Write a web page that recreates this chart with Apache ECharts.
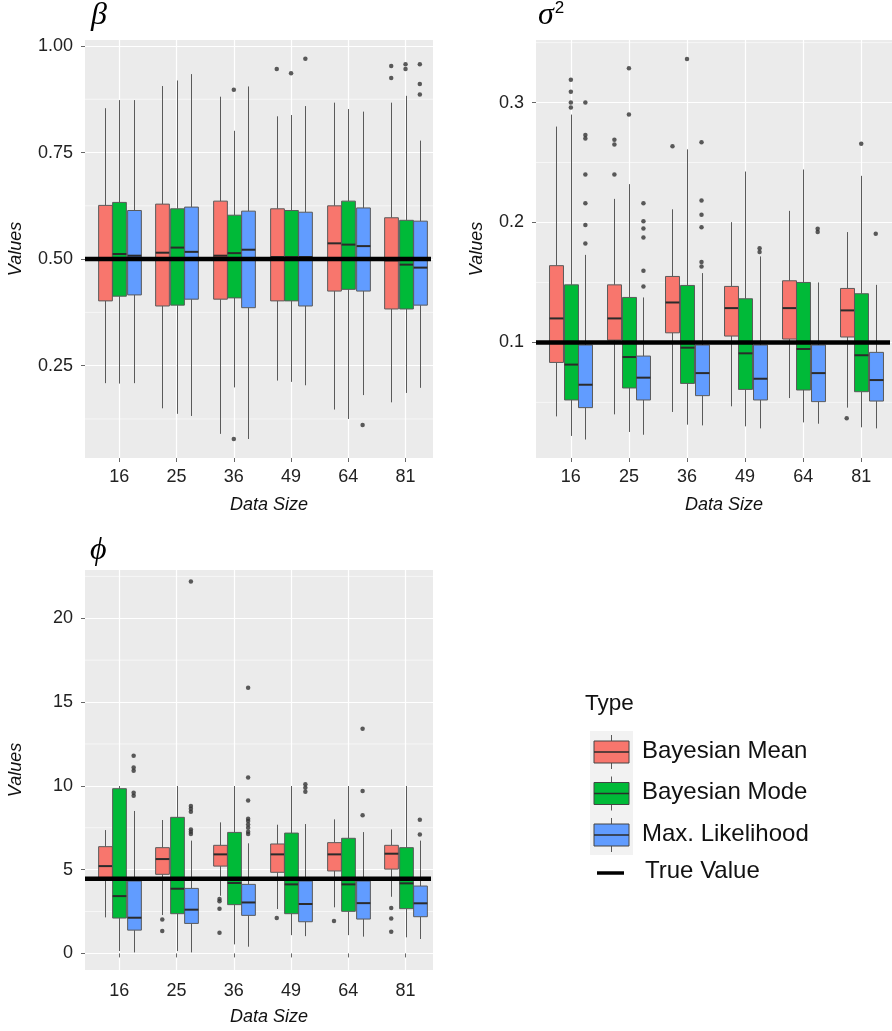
<!DOCTYPE html>
<html>
<head>
<meta charset="utf-8">
<script src="https://cdn.jsdelivr.net/npm/echarts@6/dist/echarts.min.js"></script>
<style>
  html, body { margin: 0; padding: 0; background: #ffffff; }
  #chart { width: 892px; height: 1031px; }
</style>
</head>
<body>
<div id="chart"></div>
<script>
// ---- categories and groups ----
const dataSizes = ['16', '25', '36', '49', '64', '81'];
const types = ['Bayesian Mean', 'Bayesian Mode', 'Max. Likelihood'];
const typeColors = ['#F8766D', '#00BA38', '#619CFF'];

// ---- beta: [lower whisker, Q1, median, Q3, upper whisker] per data size ----
const betaMean = [
  [0.209, 0.402, 0.499, 0.626, 0.854],
  [0.150, 0.390, 0.515, 0.629, 0.906],
  [0.090, 0.406, 0.508, 0.636, 0.881],
  [0.215, 0.402, 0.505, 0.618, 0.835],
  [0.147, 0.425, 0.537, 0.625, 0.867],
  [0.164, 0.383, 0.497, 0.597, 0.867]
];
const betaMode = [
  [0.208, 0.413, 0.512, 0.633, 0.873],
  [0.137, 0.392, 0.527, 0.618, 0.919],
  [0.199, 0.409, 0.514, 0.603, 0.801],
  [0.212, 0.402, 0.505, 0.614, 0.838],
  [0.125, 0.429, 0.534, 0.636, 0.852],
  [0.186, 0.383, 0.487, 0.591, 0.883]
];
const betaML = [
  [0.209, 0.416, 0.508, 0.614, 0.873],
  [0.132, 0.406, 0.517, 0.622, 0.934],
  [0.078, 0.386, 0.522, 0.6125, 0.905],
  [0.204, 0.390, 0.505, 0.610, 0.859],
  [0.181, 0.425, 0.5305, 0.620, 0.846],
  [0.198, 0.392, 0.480, 0.589, 0.778]
];
const betaMeanOut = [[], [], [], [0.946], [], [0.953, 0.925]];
const betaModeOut = [[], [], [0.897, 0.078], [0.936], [], [0.957, 0.946]];
const betaMLOut = [[], [], [], [0.970], [0.111], [0.957, 0.911, 0.886]];
const betaTrue = 0.5;

// ---- sigma^2 ----
const sigmaMean = [
  [0.0383, 0.0833, 0.120, 0.164, 0.280],
  [0.040, 0.1019, 0.120, 0.148, 0.2197],
  [0.042, 0.108, 0.1333, 0.155, 0.211],
  [0.0467, 0.1053, 0.1286, 0.1467, 0.2003],
  [0.0536, 0.1028, 0.1286, 0.1514, 0.2097],
  [0.0456, 0.1045, 0.1267, 0.145, 0.192]
];
const sigmaMode = [
  [0.022, 0.052, 0.0815, 0.148, 0.290],
  [0.0253, 0.062, 0.0878, 0.1375, 0.232],
  [0.0314, 0.0658, 0.0956, 0.1475, 0.261],
  [0.030, 0.0608, 0.0909, 0.1364, 0.2425],
  [0.0333, 0.0603, 0.0945, 0.150, 0.2442],
  [0.0292, 0.0589, 0.0893, 0.1406, 0.2389]
];
const sigmaML = [
  [0.019, 0.0456, 0.0647, 0.0978, 0.173],
  [0.023, 0.052, 0.0706, 0.0886, 0.1375],
  [0.0308, 0.0556, 0.0744, 0.0978, 0.1578],
  [0.0283, 0.052, 0.0697, 0.0978, 0.1717],
  [0.0322, 0.0506, 0.0744, 0.0978, 0.150],
  [0.0283, 0.0511, 0.0686, 0.0917, 0.148]
];
const sigmaMeanOut = [[], [0.269, 0.265, 0.240], [0.2636], [], [], [0.0367]];
const sigmaModeOut = [[0.319, 0.309, 0.300, 0.296], [0.3286, 0.290], [0.3364], [], [], [0.2656]];
const sigmaMLOut = [
  [0.300, 0.273, 0.270, 0.240, 0.216, 0.198, 0.1825],
  [0.216, 0.201, 0.195, 0.1875, 0.1597, 0.1467],
  [0.267, 0.2183, 0.2064, 0.196, 0.167, 0.1633],
  [0.1786, 0.1753],
  [0.1947, 0.192],
  [0.1906]
];
const sigmaTrue = 0.1;

// ---- phi ----
const phiMean = [
  [2.15, 4.42, 5.21, 6.37, 7.36],
  [2.29, 4.72, 5.63, 6.31, 7.96],
  [3.44, 5.21, 5.91, 6.45, 7.82],
  [2.65, 4.84, 5.91, 6.53, 7.68],
  [2.75, 4.92, 5.91, 6.61, 8.00],
  [3.38, 5.03, 5.95, 6.45, 7.40]
];
const phiMode = [
  [0.14, 2.11, 3.42, 9.83, 9.99],
  [0.14, 2.37, 3.86, 8.12, 9.99],
  [0.54, 2.91, 4.20, 7.22, 9.99],
  [1.09, 2.37, 4.12, 7.18, 9.99],
  [1.09, 2.51, 4.12, 6.87, 9.99],
  [0.96, 2.67, 4.18, 6.31, 9.99]
];
const phiML = [
  [0.06, 1.39, 2.13, 4.32, 8.50],
  [0.06, 1.79, 2.61, 3.88, 6.73],
  [0.40, 2.27, 3.04, 4.12, 6.57],
  [1.03, 1.89, 2.95, 4.32, 7.72],
  [1.00, 2.05, 3.00, 4.32, 7.24],
  [0.86, 2.19, 2.99, 4.02, 6.73]
];
const phiMeanOut = [[], [2.03, 1.33], [3.24, 3.12, 2.67, 1.23], [2.11], [1.93], [2.71, 2.09, 1.29]];
const phiModeOut = [[], [], [], [], [], []];
const phiMLOut = [
  [11.8, 11.1, 10.9, 9.59, 9.41],
  [22.19, 8.80, 8.64, 8.46, 7.40, 7.26, 7.12],
  [15.86, 10.49, 9.13, 8.04, 7.90, 7.70, 7.50, 7.26, 7.12],
  [10.09, 9.89, 9.65],
  [13.41, 9.69, 8.24],
  [7.98, 7.10]
];
const phiTrue = 4.45;

// ---- axis ticks ----
const categoryTicks = [1, 2, 3, 4, 5, 6];
const betaTicks = [0.25, 0.5, 0.75, 1.0];
const betaMinor = [0.125, 0.375, 0.625, 0.875];
const sigmaTicks = [0.1, 0.2, 0.3];
const sigmaMinor = [0.05, 0.15, 0.25, 0.35];
const phiTicks = [0, 5, 10, 15, 20];
const phiMinor = [2.5, 7.5, 12.5, 17.5, 22.5];

// ---- drawing ----
const FONT = 'Liberation Sans, Arial, sans-serif';
const DODGE = 0.25;
const BOX_W = 0.24;
const PANEL_BG = '#EBEBEB';

const panels = [
  { grid: { left: 85, top: 40, width: 348, height: 418 }, x: [0.4, 6.48], y: [0.0334, 1.014],
    ticks: betaTicks, minor: betaMinor, digits: 2, nameGap: 60, labelMargin: 10,
    stats: [betaMean, betaMode, betaML], outs: [betaMeanOut, betaModeOut, betaMLOut], truth: betaTrue },
  { grid: { left: 536, top: 40, width: 356, height: 418 }, x: [0.4, 6.53], y: [0.0036, 0.3522],
    ticks: sigmaTicks, minor: sigmaMinor, digits: 1, nameGap: 50, labelMargin: 10,
    stats: [sigmaMean, sigmaMode, sigmaML], outs: [sigmaMeanOut, sigmaModeOut, sigmaMLOut], truth: sigmaTrue },
  { grid: { left: 85, top: 570, width: 348, height: 400 }, x: [0.4, 6.48], y: [-0.99, 22.88],
    ticks: phiTicks, minor: phiMinor, digits: 0, nameGap: 60, labelMargin: 12,
    stats: [phiMean, phiMode, phiML], outs: [phiMeanOut, phiModeOut, phiMLOut], truth: phiTrue }
];

const grids = [], xAxes = [], yAxes = [], series = [];

panels.forEach((p, g) => {
  grids.push(Object.assign({ show: true, backgroundColor: PANEL_BG, borderWidth: 0 }, p.grid));

  xAxes.push({
    gridIndex: g, type: 'value', min: p.x[0], max: p.x[1],
    axisLine: { show: false },
    axisTick: { show: true, customValues: categoryTicks, length: 4, lineStyle: { color: '#666' } },
    axisLabel: { customValues: categoryTicks, margin: p.labelMargin, fontSize: 18, color: '#222', fontFamily: FONT,
      formatter: v => dataSizes[Math.round(v) - 1] },
    splitLine: { show: true, lineStyle: { color: '#ffffff', width: 1.2 } },
    name: 'Data Size', nameLocation: 'middle', nameGap: 38,
    nameTextStyle: { fontStyle: 'italic', fontSize: 18, color: '#111', fontFamily: FONT, padding: [0, 0, 0, 20] }
  });

  yAxes.push({
    gridIndex: g, type: 'value', min: p.y[0], max: p.y[1],
    axisLine: { show: false },
    axisTick: { show: true, customValues: p.ticks, length: 4, lineStyle: { color: '#666' } },
    axisLabel: { customValues: p.ticks, margin: 12, fontSize: 18, color: '#222', fontFamily: FONT,
      formatter: v => v.toFixed(p.digits) },
    splitLine: { show: true, lineStyle: { color: '#ffffff', width: 1.2 } },
    name: 'Values', nameLocation: 'middle', nameGap: p.nameGap, nameRotate: 90,
    nameTextStyle: { fontStyle: 'italic', fontSize: 18, color: '#111', fontFamily: FONT }
  });

  // minor horizontal grid lines
  series.push({
    type: 'custom', xAxisIndex: g, yAxisIndex: g, z: 1, silent: true,
    data: p.minor.map(v => [p.x[0], v]),
    encode: { x: 0, y: 1 },
    renderItem: (params, api) => {
      const cs = params.coordSys;
      const y = api.coord([api.value(0), api.value(1)])[1];
      return { type: 'line', shape: { x1: cs.x, y1: y, x2: cs.x + cs.width, y2: y },
        style: { stroke: '#ffffff', lineWidth: 0.6 } };
    }
  });

  types.forEach((name, k) => {
    const color = typeColors[k];
    const offset = (k - 1) * DODGE;
    series.push({
      type: 'custom', name: name, xAxisIndex: g, yAxisIndex: g, z: 3, silent: true,
      data: p.stats[k].map((s, i) => [categoryTicks[i] + offset].concat(s)),
      encode: { x: 0, y: [1, 2, 3, 4, 5] },
      renderItem: (params, api) => {
        const x = api.value(0);
        const lo = api.coord([x, api.value(1)]);
        const q1 = api.coord([x, api.value(2)]);
        const md = api.coord([x, api.value(3)]);
        const q3 = api.coord([x, api.value(4)]);
        const hi = api.coord([x, api.value(5)]);
        const half = api.size([BOX_W, 0])[0] / 2;
        const cx = Math.round(lo[0]) + 0.5;
        return { type: 'group', children: [
          { type: 'line', shape: { x1: cx, y1: lo[1], x2: cx, y2: q1[1] }, style: { stroke: '#5a5a5a', lineWidth: 1 } },
          { type: 'line', shape: { x1: cx, y1: q3[1], x2: cx, y2: hi[1] }, style: { stroke: '#5a5a5a', lineWidth: 1 } },
          { type: 'rect', shape: { x: cx - half, y: q3[1], width: half * 2, height: q1[1] - q3[1] },
            style: { fill: color, stroke: '#5a5a5a', lineWidth: 1 } },
          { type: 'line', shape: { x1: cx - half, y1: md[1], x2: cx + half, y2: md[1] }, style: { stroke: '#2b2b2b', lineWidth: 2 } }
        ] };
      }
    });

    const pts = [];
    p.outs[k].forEach((vals, i) => vals.forEach(v => pts.push([categoryTicks[i] + offset, v])));
    series.push({
      type: 'scatter', xAxisIndex: g, yAxisIndex: g, z: 4, silent: true,
      symbolSize: 4.5, itemStyle: { color: '#333333' }, data: pts
    });
  });

  // true value reference line
  series.push({
    type: 'custom', xAxisIndex: g, yAxisIndex: g, z: 6, silent: true,
    data: [[p.x[0], p.truth]],
    encode: { x: 0, y: 1 },
    renderItem: (params, api) => {
      const cs = params.coordSys;
      const y = api.coord([api.value(0), api.value(1)])[1];
      return { type: 'line', shape: { x1: cs.x, y1: y, x2: cs.x + cs.width - 2, y2: y },
        style: { stroke: '#000000', lineWidth: 4.5 } };
    }
  });
});

// legend drawn as graphic elements
const legendTop = 741, legendStep = 41.5;
const legendChildren = [
  { type: 'text', left: 585, top: 692, style: { text: 'Type', font: '22.5px ' + FONT, fill: '#111' } },
  { type: 'rect', shape: { x: 590, y: 731, width: 43, height: 124 }, style: { fill: '#F2F2F2' } }
];
types.forEach((name, k) => {
  const top = legendTop + k * legendStep;
  legendChildren.push(
    { type: 'line', shape: { x1: 611.5, y1: top - 6, x2: 611.5, y2: top + 28 }, style: { stroke: '#5a5a5a', lineWidth: 1 } },
    { type: 'rect', shape: { x: 594, y: top, width: 35, height: 22 }, style: { fill: typeColors[k], stroke: '#444', lineWidth: 1 } },
    { type: 'line', shape: { x1: 594, y1: top + 11, x2: 629, y2: top + 11 }, style: { stroke: '#2b2b2b', lineWidth: 1.5 } },
    { type: 'text', left: 642, top: top - 2, style: { text: name, font: '24px ' + FONT, fill: '#111' } }
  );
});
legendChildren.push(
  { type: 'line', shape: { x1: 597, y1: 873, x2: 624, y2: 873 }, style: { stroke: '#000', lineWidth: 3.5 } },
  { type: 'text', left: 645, top: 859, style: { text: 'True Value', font: '24px ' + FONT, fill: '#111' } }
);

const titleFont = 'Liberation Serif, DejaVu Serif, serif';
const option = {
  animation: false,
  backgroundColor: '#ffffff',
  title: [
    { text: 'β', left: 91, top: 0, padding: 0, textStyle: { fontFamily: titleFont, fontStyle: 'italic', fontWeight: 'normal', fontSize: 32, color: '#000' } },
    { text: '{s|σ}{p|2}', left: 538, top: 0, padding: 0,
      textStyle: { fontWeight: 'normal', rich: {
        s: { fontFamily: titleFont, fontStyle: 'italic', fontWeight: 'normal', fontSize: 32, color: '#000', verticalAlign: 'bottom' },
        p: { fontFamily: FONT, fontWeight: 'normal', fontSize: 17, color: '#000', verticalAlign: 'top', padding: [0, 0, 0, 1] }
      } } },
    { text: 'ϕ', left: 90, top: 535, padding: 0, textStyle: { fontFamily: titleFont, fontStyle: 'italic', fontWeight: 'normal', fontSize: 32, color: '#000' } }
  ],
  grid: grids,
  xAxis: xAxes,
  yAxis: yAxes,
  series: series,
  graphic: [{ type: 'group', children: legendChildren }]
};

const chart = echarts.init(document.getElementById('chart'), null, { renderer: 'canvas' });
chart.setOption(option);
</script>
</body>
</html>
